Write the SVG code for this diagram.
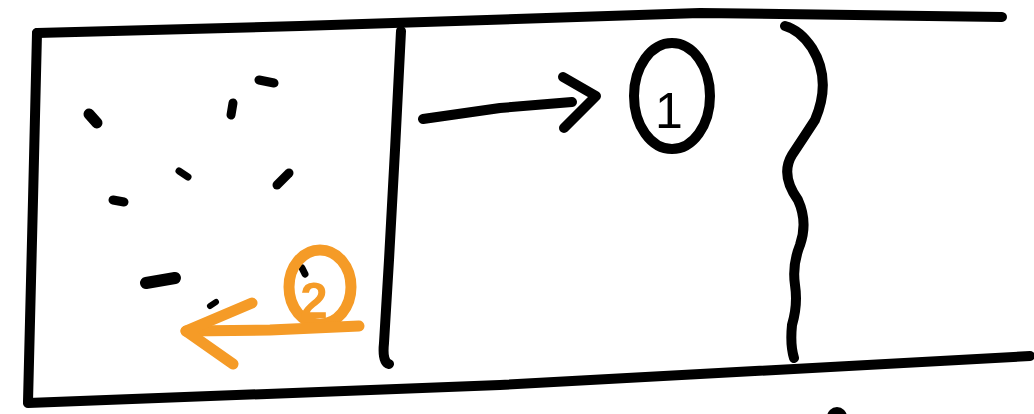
<svg xmlns="http://www.w3.org/2000/svg" width="1034" height="414" viewBox="0 0 1034 414">
<style>
.k{fill:none;stroke:#000;stroke-width:10;stroke-linecap:round;stroke-linejoin:round}
.d{fill:none;stroke:#000;stroke-width:9;stroke-linecap:round}
.o{fill:none;stroke:#f59b27;stroke-width:11;stroke-linecap:round;stroke-linejoin:round}
.t{font-family:"Liberation Sans",sans-serif}
</style>
<rect width="1034" height="414" fill="#fff"/>
<g id="frame">
<path class="k" d="M37,33 L300,26 L700,13 L1002,17"/>
<path class="k" d="M37,33 L33,200 L28,402"/>
<path class="k" d="M28,403 L500,385 L1030,356"/>
<path class="k" d="M401,31 L395,150 L389,260 L384,343 Q382,362 389,364"/>
<path class="k" d="M785,26 Q800,30 812,48 Q832,80 815,120 Q802,140 792,155 Q780,175 798,200 Q808,222 800,245 Q792,265 795,285 Q798,305 792,325 Q790,345 794,358"/>
</g>
<g id="dots">
<path class="d" d="M89,114 L97,123" style="stroke-width:11"/>
<path class="d" d="M259,80 L274,83"/>
<path class="d" d="M233,103 L231,115"/>
<path class="d" d="M179,171 L188,177" style="stroke-width:7"/>
<path class="d" d="M289,173 L277,185"/>
<path class="d" d="M113,200 L124,202"/>
<path class="d" d="M146,283 L175,278" style="stroke-width:12"/>
<path class="d" d="M210,306 L216,302" style="stroke-width:6"/>
<path class="d" d="M302,268 L305,274" style="stroke-width:7"/>
<path class="d" d="M289,276 L291,272" style="stroke-width:6"/>
<circle cx="837" cy="417" r="10" fill="#000"/>
</g>
<g id="node1">
<ellipse class="k" cx="672" cy="96" rx="38" ry="53"/>
<text class="t" x="655" y="128" font-size="50" fill="#000">1</text>
</g>
<g id="node2">
<ellipse class="o" cx="320" cy="287" rx="31" ry="37"/>
<text class="t" x="300" y="318" font-size="50" font-weight="bold" fill="#f59b27">2</text>
</g>
<g id="connectors">
<path class="k" d="M423,119 L500,108 L572,102"/>
<path class="k" d="M563,77 L596,96 L564,128"/>
<path class="o" d="M359,326 L270,330 L186,331"/>
<path class="o" d="M252,303 L186,331 L233,364"/>
</g>
</svg>
